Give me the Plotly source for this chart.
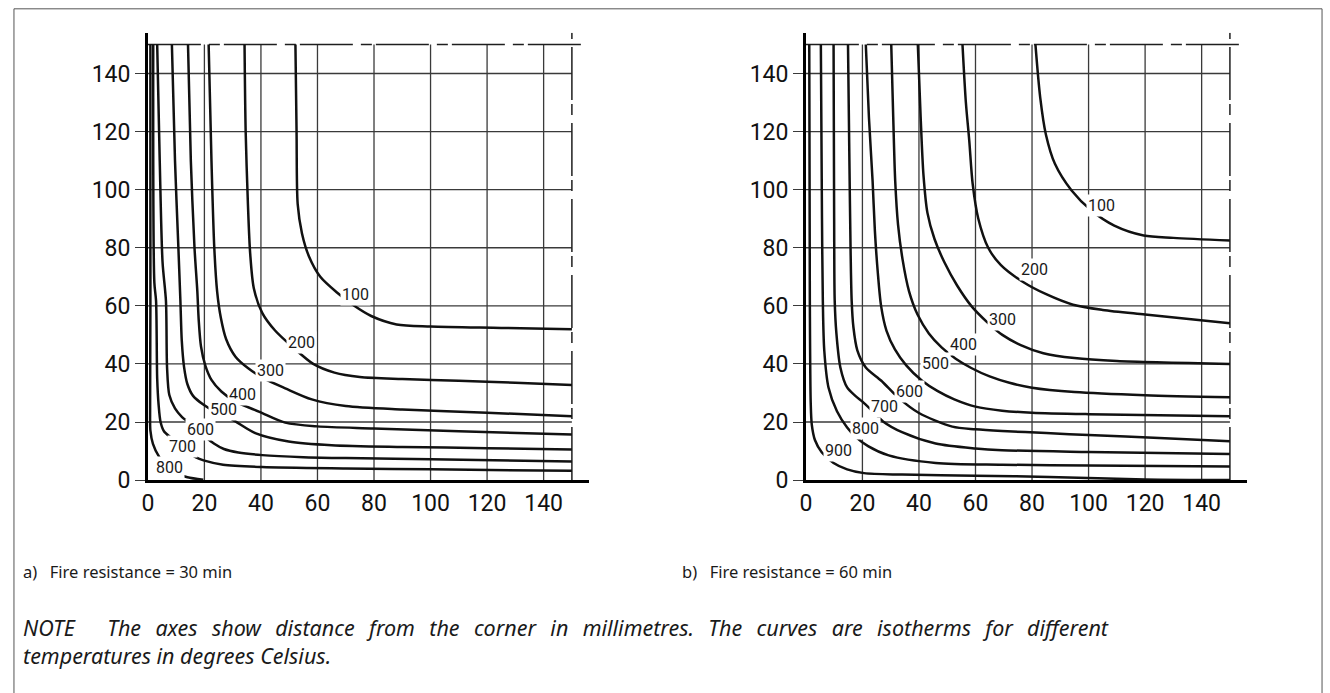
import plotly.graph_objects as go

# ---------------------------------------------------------------------------
# Axis ticks and the section edge (dash-dot line of symmetry)
# ---------------------------------------------------------------------------
TICKS = [0, 20, 40, 60, 80, 100, 120, 140]
GRID = [20, 40, 60, 80, 100, 120, 140]
EDGE = 150

TEMPS_30 = [100, 200, 300, 400, 500, 600, 700, 800]
TEMPS_60 = [100, 200, 300, 400, 500, 600, 700, 800, 900]

# ---------------------------------------------------------------------------
# a) 30 min isotherms (distance from corner, mm)
# ---------------------------------------------------------------------------
iso30_100_x = [52.2, 52.6, 53.0, 54.5, 57.0, 61.0, 67.0, 73.0, 79.0, 88.0, 100.0, 125.0, 150.0]
iso30_100_y = [150.0, 120.0, 95.0, 85.0, 77.0, 70.0, 64.5, 60.0, 56.5, 53.6, 52.9, 52.4, 51.9]

iso30_200_x = [34.2, 34.6, 35.4, 36.2, 37.5, 40.5, 45.0, 51.0, 58.5, 66.0, 75.0, 90.0, 110.0, 130.0, 150.0]
iso30_200_y = [150.0, 120.0, 95.0, 78.0, 66.0, 57.5, 51.5, 46.0, 40.0, 37.0, 35.5, 34.8, 34.2, 33.5, 32.7]

iso30_300_x = [21.5, 22.5, 23.5, 24.5, 25.8, 27.7, 31.0, 35.5, 41.0, 48.6, 58.0, 70.0, 90.0, 120.0, 150.0]
iso30_300_y = [150.0, 110.0, 80.0, 65.0, 56.0, 48.5, 42.5, 38.5, 35.0, 31.6, 27.8, 25.5, 24.3, 23.2, 22.0]

iso30_400_x = [14.2, 15.2, 16.5, 17.5, 18.0, 18.8, 20.3, 22.5, 26.0, 31.0, 39.5, 48.6, 60.0, 80.0, 110.0, 150.0]
iso30_400_y = [150.0, 110.0, 80.0, 65.0, 55.0, 46.0, 39.5, 34.5, 30.5, 27.0, 23.5, 19.8, 18.5, 17.8, 16.8, 15.7]

iso30_500_x = [8.5, 9.6, 10.8, 11.5, 12.0, 12.8, 14.0, 16.0, 19.6, 23.0, 27.0, 31.0, 38.0, 49.8, 65.0, 90.0, 120.0, 150.0]
iso30_500_y = [150.0, 110.0, 80.0, 62.0, 48.0, 39.0, 33.0, 29.0, 26.0, 24.0, 22.5, 20.2, 16.2, 13.3, 12.0, 11.4, 11.0, 10.5]

iso30_600_x = [3.3, 4.2, 5.2, 6.4, 6.8, 7.6, 9.6, 12.1, 14.0, 16.5, 19.1, 20.9, 23.5, 26.9, 32.0, 40.4, 55.0, 70.0, 100.0, 150.0]
iso30_600_y = [150.0, 110.0, 75.0, 61.7, 38.6, 29.3, 24.7, 21.7, 20.2, 18.2, 16.5, 14.5, 12.5, 10.7, 9.5, 8.6, 7.9, 7.6, 7.2, 6.4]

iso30_700_x = [1.9, 2.3, 2.9, 3.3, 3.8, 4.5, 5.7, 8.3, 10.5, 12.4, 14.6, 17.0, 19.7, 26.6, 40.4, 70.0, 100.0, 150.0]
iso30_700_y = [150.0, 68.0, 61.7, 35.0, 26.0, 20.0, 16.8, 14.5, 12.5, 11.4, 9.3, 7.8, 6.8, 5.3, 4.5, 4.0, 3.7, 3.2]

iso30_800_x = [0.9, 0.9, 0.8, 0.9, 1.8, 4.0, 6.0, 7.75, 10.3, 14.0, 19.6]
iso30_800_y = [150.0, 60.0, 25.0, 17.0, 12.5, 8.0, 5.8, 4.3, 2.2, 1.0, 0.1]

lab30_x = [73.4, 54.5, 43.3, 33.6, 26.9, 18.6, 12.1, 7.6]
lab30_y = [63.9, 47.3, 37.9, 29.5, 24.2, 17.3, 11.7, 4.2]

# ---------------------------------------------------------------------------
# b) 60 min isotherms (distance from corner, mm)
# ---------------------------------------------------------------------------
iso60_100_x = [81.2, 82.9, 84.9, 88.1, 94.0, 101.0, 109.1, 119.5, 130.0, 150.0]
iso60_100_y = [150.0, 131.7, 119.0, 108.9, 99.7, 92.8, 87.6, 84.2, 83.4, 82.5]

iso60_200_x = [55.4, 56.6, 57.8, 59.0, 61.0, 64.5, 69.0, 76.7, 85.0, 94.5, 105.0, 120.0, 150.0]
iso60_200_y = [150.0, 130.0, 116.8, 102.0, 90.0, 80.0, 74.0, 68.3, 64.0, 60.4, 58.6, 57.0, 54.0]

iso60_300_x = [39.6, 40.6, 41.6, 43.0, 45.5, 49.0, 53.5, 58.5, 64.0, 69.5, 76.0, 84.0, 95.0, 110.0, 150.0]
iso60_300_y = [150.0, 125.0, 105.0, 92.0, 83.0, 75.0, 67.0, 60.0, 54.5, 50.0, 46.5, 43.7, 42.0, 41.0, 40.0]

iso60_400_x = [30.2, 30.9, 31.6, 32.6, 34.2, 36.5, 39.5, 43.5, 48.0, 53.0, 58.5, 65.0, 72.0, 80.0, 95.0, 120.0, 150.0]
iso60_400_y = [150.0, 125.0, 103.0, 88.0, 76.0, 65.0, 57.0, 50.5, 45.7, 41.8, 38.6, 35.7, 33.5, 31.8, 30.3, 29.2, 28.5]

iso60_500_x = [21.2, 22.3, 23.6, 24.4, 25.4, 26.6, 28.5, 31.5, 35.5, 41.0, 46.5, 52.5, 60.0, 69.4, 80.0, 100.0, 150.0]
iso60_500_y = [150.0, 125.0, 103.0, 86.0, 72.0, 60.0, 51.5, 45.0, 39.5, 34.3, 30.7, 27.8, 25.3, 23.9, 23.2, 22.7, 22.0]

iso60_600_x = [14.9, 15.4, 15.8, 16.2, 16.8, 18.2, 21.2, 26.7, 32.7, 40.0, 51.8, 60.0, 69.4, 85.0, 100.0, 125.0, 150.0]
iso60_600_y = [150.0, 110.0, 80.0, 61.7, 52.8, 44.7, 38.8, 34.2, 28.4, 23.1, 18.4, 17.5, 16.9, 16.2, 15.5, 14.5, 13.4]

iso60_700_x = [9.8, 10.0, 10.2, 10.8, 12.2, 14.6, 17.5, 20.0, 23.6, 27.3, 34.0, 45.9, 60.0, 69.4, 100.0, 150.0]
iso60_700_y = [150.0, 90.0, 61.7, 50.5, 38.8, 31.9, 29.0, 27.0, 23.7, 20.2, 16.5, 12.6, 10.9, 10.3, 9.7, 9.0]

iso60_800_x = [5.3, 5.7, 6.0, 6.5, 8.0, 11.0, 14.6, 17.6, 22.0, 29.3, 45.9, 69.4, 100.0, 150.0]
iso60_800_y = [150.0, 90.0, 61.7, 44.7, 31.9, 23.7, 18.1, 14.9, 11.7, 8.5, 5.9, 5.3, 5.0, 4.7]

iso60_900_x = [1.2, 1.4, 1.7, 2.1, 3.2, 5.6, 9.8, 14.6, 20.6, 34.0, 60.0, 86.0, 120.0, 150.0]
iso60_900_y = [150.0, 62.0, 27.0, 19.0, 13.8, 9.6, 5.9, 3.7, 2.4, 1.9, 1.5, 1.1, 0.2, 0.0]

lab60_x = [104.4, 81.0, 69.4, 55.9, 46.0, 36.6, 27.9, 21.2, 11.6]
lab60_y = [94.6, 72.5, 55.4, 46.6, 40.0, 30.5, 25.4, 17.6, 10.1]

curves_30 = [
    (iso30_100_x, iso30_100_y), (iso30_200_x, iso30_200_y), (iso30_300_x, iso30_300_y),
    (iso30_400_x, iso30_400_y), (iso30_500_x, iso30_500_y), (iso30_600_x, iso30_600_y),
    (iso30_700_x, iso30_700_y), (iso30_800_x, iso30_800_y),
]
curves_60 = [
    (iso60_100_x, iso60_100_y), (iso60_200_x, iso60_200_y), (iso60_300_x, iso60_300_y),
    (iso60_400_x, iso60_400_y), (iso60_500_x, iso60_500_y), (iso60_600_x, iso60_600_y),
    (iso60_700_x, iso60_700_y), (iso60_800_x, iso60_800_y), (iso60_900_x, iso60_900_y),
]

# ---------------------------------------------------------------------------
# Figure
# ---------------------------------------------------------------------------
W, H = 1330, 693
TICK_FONT = "Roboto, DejaVu Sans, sans-serif"
TEXT_FONT = "Noto Sans, Open Sans, sans-serif"
GRID_COLOR = "#3a3a3a"
CURVE_COLOR = "#111111"

fig = go.Figure()


def add_panel(fig, xa, ya, curves, temps, lab_x, lab_y):
    # grid lines, limited to the section edge
    gx, gy = [], []
    for g in GRID:
        gx += [g, g, None]
        gy += [0, EDGE, None]
        gx += [0, EDGE, None]
        gy += [g, g, None]
    fig.add_trace(go.Scatter(x=gx, y=gy, mode="lines", xaxis=xa, yaxis=ya,
                             line=dict(color=GRID_COLOR, width=1.3),
                             hoverinfo="skip", showlegend=False))
    # dash-dot lines of symmetry at the section edge
    fig.add_trace(go.Scatter(x=[0, EDGE + 5], y=[EDGE, EDGE], mode="lines",
                             xaxis=xa, yaxis=ya,
                             line=dict(color="#1e1e1e", width=1.5, dash="53px,8px,11px,4px"),
                             hoverinfo="skip", showlegend=False))
    fig.add_trace(go.Scatter(x=[EDGE, EDGE], y=[0, EDGE + 4], mode="lines",
                             xaxis=xa, yaxis=ya,
                             line=dict(color="#1e1e1e", width=1.5, dash="53px,8px,11px,4px"),
                             hoverinfo="skip", showlegend=False))
    # isotherms
    for (cx, cy), t in zip(curves, temps):
        fig.add_trace(go.Scatter(x=cx, y=cy, mode="lines", xaxis=xa, yaxis=ya,
                                 line=dict(color=CURVE_COLOR, width=2.5,
                                           shape="spline", smoothing=0.8),
                                 name=f"{t} °C", showlegend=False))
    # isotherm labels
    for t, lx, ly in zip(temps, lab_x, lab_y):
        fig.add_annotation(x=lx, y=ly, xref=xa, yref=ya, text=str(t),
                           showarrow=False, bgcolor="white", borderpad=1,
                           font=dict(family=TICK_FONT, size=16, color="#1a1a1a"))


add_panel(fig, "x", "y", curves_30, TEMPS_30, lab30_x, lab30_y)
add_panel(fig, "x2", "y2", curves_60, TEMPS_60, lab60_x, lab60_y)

# vertical pixel positions (from the top of the page)
PLOT_TOP, PLOT_BOTTOM = 33.5, 490.0
CAPTION_Y = 583.0
NOTE_Y = 655.0

ydom = [1 - PLOT_BOTTOM / H, 1 - PLOT_TOP / H]
xaxis_common = dict(range=[0, 156], tickvals=TICKS, showgrid=False, zeroline=False,
                    showline=True, linecolor="black", linewidth=2.6,
                    ticks="",
                    tickfont=dict(family=TICK_FONT, size=23, color="#111111"),
                    fixedrange=True)
yaxis_common = dict(range=[0, 154], tickvals=TICKS, showgrid=False, zeroline=False,
                    showline=True, linecolor="black", linewidth=2.6,
                    ticks="outside", ticklen=10, tickwidth=1.3, tickcolor=GRID_COLOR,
                    tickfont=dict(family=TICK_FONT, size=23, color="#111111"),
                    domain=ydom, fixedrange=True)

fig.update_layout(
    width=W, height=H,
    margin=dict(l=0, r=0, t=0, b=0),
    paper_bgcolor="white", plot_bgcolor="white",
    xaxis=dict(xaxis_common, domain=[142.5 / W, 585.5 / W], anchor="y"),
    yaxis=dict(yaxis_common, anchor="x"),
    xaxis2=dict(xaxis_common, domain=[803.5 / W, 1246.5 / W], anchor="y2"),
    yaxis2=dict(yaxis_common, anchor="x2"),
    showlegend=False,
)

# panel captions and note
captions = [("a)\u2002 Fire resistance = 30 min", 15), ("b)\u2002 Fire resistance = 60 min", 677)]
for txt, px in captions:
    fig.add_annotation(x=px / W, y=1 - CAPTION_Y / H, xref="paper", yref="paper",
                       xanchor="left", yanchor="middle", showarrow=False, text=txt,
                       font=dict(family=TEXT_FONT, size=16.5, color="#1a1a1a"))

# first note line is set justified (wider word spacing), the last line is not
gap = "\u2002\u2009"
note_words = "The axes show distance from the corner in millimetres. The curves are isotherms for different"
note_text = ("<i>NOTE\u2003\u2002" + gap.join(note_words.split(" "))
             + "<br>temperatures in degrees Celsius.</i>")
fig.add_annotation(x=15 / W, y=1 - NOTE_Y / H, xref="paper", yref="paper",
                   xanchor="left", yanchor="middle", align="left", showarrow=False,
                   text=note_text,
                   font=dict(family=TEXT_FONT, size=21.5, color="#1a1a1a"))

# outer frame of the figure
fig.add_shape(type="rect", xref="paper", yref="paper",
              x0=8 / W, x1=1322 / W, y0=-0.05, y1=1 - 9 / H,
              line=dict(color="#555555", width=1), layer="below")

fig.write_html("out.html")
